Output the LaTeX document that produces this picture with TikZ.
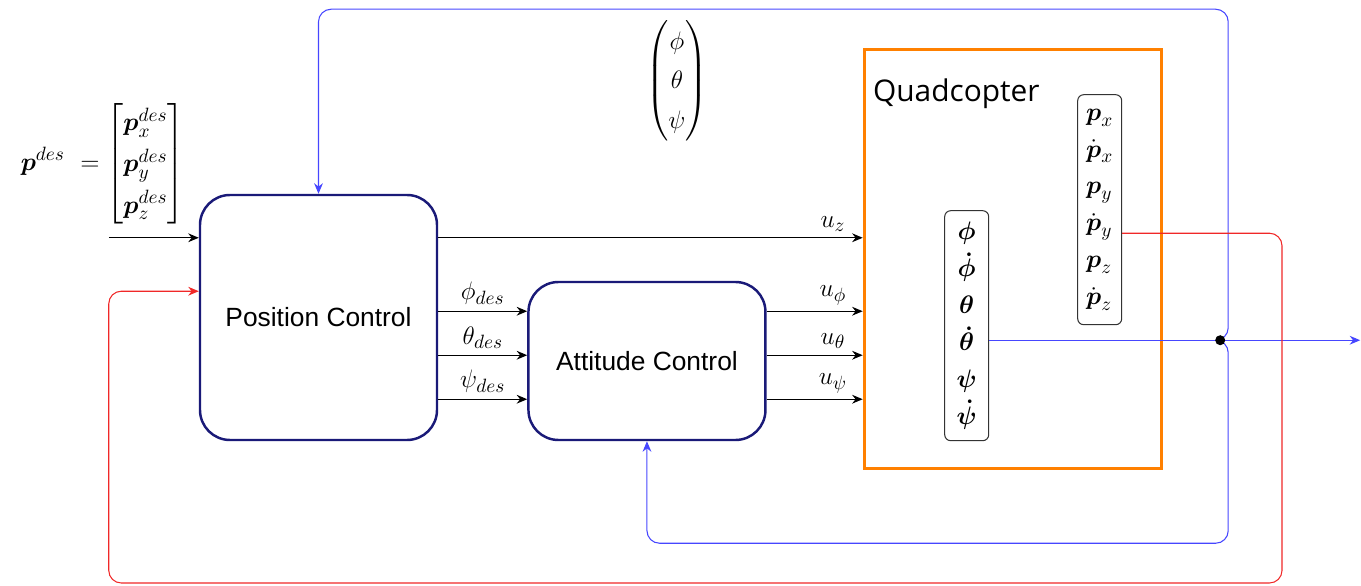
\documentclass[tikz,border=0pt]{standalone}
\usepackage{amsmath}
\usepackage{fontspec}
\setmainfont{Liberation Sans}
\newfontfamily\quadfont{Open Sans}
\usetikzlibrary{arrows.meta, positioning, calc}
\renewcommand{\arraystretch}{1.3}
\definecolor{ctrlnavy}{RGB}{26,26,120}
\definecolor{quadorange}{RGB}{255,128,0}
\definecolor{fbblue}{RGB}{70,70,255}
\definecolor{fbred}{RGB}{240,40,40}
\tikzset{
  ctrlblock/.style={rectangle, rounded corners=0.6cm, draw=ctrlnavy, line width=1.4pt, minimum width=4.74cm, text centered, font=\fontsize{15}{18}\selectfont},
  plant/.style={rectangle, draw=quadorange, line width=2pt, minimum width=5.94cm, minimum height=8.38cm},
  statebox/.style={rectangle, rounded corners=0.12cm, draw=black!80, line width=0.6pt, minimum width=0.88cm, minimum height=4.6cm, inner sep=2pt, font=\fontsize{15}{21}\selectfont},
  mathlbl/.style={font=\fontsize{15}{18}\selectfont},
  sigarrow/.style={-{Stealth[length=6pt, width=5pt]}, line width=0.7pt},
  fbline/.style={line width=0.6pt, rounded corners=0.25cm},
}

\begin{document}
\begin{tikzpicture}
\useasboundingbox (0,0) rectangle (27.22,11.72);
\node[ctrlblock, minimum height=4.9cm] (pos) at (6.37,5.37) {Position Control};
\node[ctrlblock, minimum height=3.16cm, right=1.78cm of pos.south east, anchor=south west] (att) {Attitude Control};
\node[plant, right=1.92cm of att.south east, anchor=south west, yshift=-0.58cm] (quad) {};
\node[anchor=west, inner sep=0pt, font=\quadfont\fontsize{17}{20}\selectfont] (qlabel) at ($(quad.north west)+(0.2,-0.92)$) {Quadcopter};
\node[statebox, align=center, anchor=south] (attst) at ($(quad.south west)+(2.08,0.58)$) {$\boldsymbol{\phi}$\\ $\boldsymbol{\dot{\phi}}$\\ $\boldsymbol{\theta}$\\ $\boldsymbol{\dot{\theta}}$\\ $\boldsymbol{\psi}$\\ $\boldsymbol{\dot{\psi}}$};
\node[statebox, align=left, anchor=south] (posst) at ($(quad.south west)+(4.74,2.90)$) {$\boldsymbol{p}_x$\\ $\dot{\boldsymbol{p}}_x$\\ $\boldsymbol{p}_y$\\ $\dot{\boldsymbol{p}}_y$\\ $\boldsymbol{p}_z$\\ $\dot{\boldsymbol{p}}_z$};
\node[mathlbl, anchor=east, inner sep=0pt] (pdes) at ($(pos.north west)+(-0.28,0.6)$) {$\boldsymbol{p}^{des}\,\, = \begin{bmatrix} \boldsymbol{p}_x^{des}\\ \boldsymbol{p}_y^{des}\\ \boldsymbol{p}_z^{des}\end{bmatrix}$};
\node[mathlbl, inner sep=0pt] (euler) at ($(att.north)+(0.6,4.0)$) {\renewcommand{\arraystretch}{1.25}$\begin{pmatrix}\phi\\ \theta\\ \psi\end{pmatrix}$};

\coordinate (pin) at ($(pos.north west)+(-1.8,-0.88)$);
\coordinate (redin) at ($(pos.south west)+(-1.8,3.0)$);
\coordinate (rphi) at ($(att.south west)+(0,2.6)$);
\coordinate (rtheta) at ($(att.south west)+(0,1.72)$);
\coordinate (rpsi) at ($(att.south west)+(0,0.84)$);
\coordinate (tap) at ($(quad.south east)+(1.14,2.6)$);
\coordinate (yout) at ($(tap)+(2.8,0)$);
\coordinate (fbtop) at ($(tap)+(0.16,6.62)$);
\coordinate (fbbot) at ($(tap)+(0.16,-4.06)$);
\coordinate (redtop) at ($(tap)+(1.36,2.14)$);
\coordinate (redbot) at (25.64,0.06);

\draw[sigarrow] (pin) -- (pin -| pos.west);
\draw[sigarrow] (pin -| pos.east) -- node[mathlbl, above, pos=0.93] {$u_z$} (pin -| quad.west);
\draw[sigarrow] (pos.east |- rphi) -- node[mathlbl, above] {$\phi_{des}$} (rphi);
\draw[sigarrow] (pos.east |- rtheta) -- node[mathlbl, above] {$\theta_{des}$} (rtheta);
\draw[sigarrow] (pos.east |- rpsi) -- node[mathlbl, above] {$\psi_{des}$} (rpsi);
\draw[sigarrow] (att.east |- rphi) -- node[mathlbl, above, pos=0.69] {$u_\phi$} (quad.west |- rphi);
\draw[sigarrow] (att.east |- rtheta) -- node[mathlbl, above, pos=0.69] {$u_\theta$} (quad.west |- rtheta);
\draw[sigarrow] (att.east |- rpsi) -- node[mathlbl, above, pos=0.69] {$u_\psi$} (quad.west |- rpsi);

\draw[fbline, fbblue] (attst.east |- tap) -- (tap);
\draw[fbline, fbblue, -{Stealth[length=6pt, width=5pt]}] (tap) -- (yout);
\draw[fbline, fbblue, -{Stealth[length=6pt, width=5pt]}] (tap) -| (fbtop) -| (pos.north);
\draw[fbline, fbblue, -{Stealth[length=6pt, width=5pt]}] (tap) -| (fbbot) -| (att.south);
\draw[fbline, fbred, -{Stealth[length=6pt, width=5pt]}] (posst.east |- redtop) -| (redbot) -| (redin) -- (redin -| pos.west);
\fill (tap) circle (0.1);
\end{tikzpicture}
\end{document}
